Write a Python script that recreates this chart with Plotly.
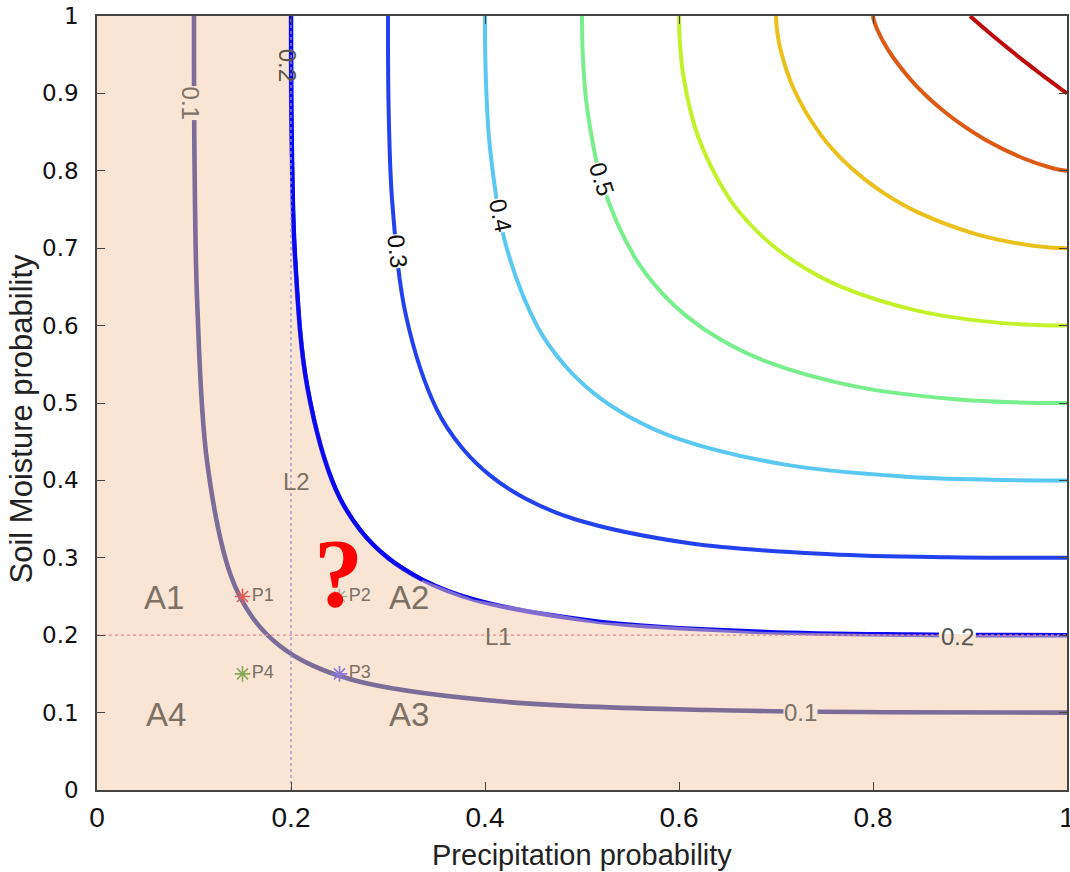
import plotly.graph_objects as go

# ---------------- data ----------------
levels = [0.1, 0.2, 0.3, 0.4, 0.5, 0.6, 0.7, 0.8, 0.9]
level_colors = ["#000C85", "#0A0AF0", "#2242F0", "#5AC8F0", "#78EE8C",
                "#C4F22A", "#EBC01A", "#DC5A14", "#BE0A0A"]

# contour lines (Precipitation prob. x, Soil Moisture prob. y)
c1_x = [0.1, 0.1005, 0.1033, 0.1136, 0.1381, 0.1609, 0.1873, 0.2219, 0.2764, 0.4230, 0.6300, 0.8186, 1.0]
c1_y = [1.0, 0.8186, 0.6300, 0.4230, 0.2764, 0.2219, 0.1873, 0.1609, 0.1381, 0.1136, 0.1033, 0.1005, 0.1]

c2_x = [0.2, 0.2007, 0.2041, 0.2170, 0.2461, 0.2716, 0.2999, 0.3354, 0.3883, 0.5191, 0.6894, 0.8408, 1.0]
c2_y = [1.0, 0.8408, 0.6894, 0.5191, 0.3883, 0.3354, 0.2999, 0.2716, 0.2461, 0.2170, 0.2041, 0.2007, 0.2]

c3_x = [0.3, 0.3007, 0.3046, 0.3188, 0.3501, 0.3769, 0.4058, 0.4411, 0.4920, 0.6112, 0.7558, 0.8773, 1.0]
c3_y = [1.0, 0.8773, 0.7558, 0.6112, 0.4920, 0.4411, 0.4058, 0.3769, 0.3501, 0.3188, 0.3046, 0.3007, 0.3]

c4_x = [0.4, 0.4008, 0.4051, 0.4207, 0.4544, 0.4826, 0.5124, 0.5481, 0.5979, 0.7079, 0.8298, 0.9218, 1.0]
c4_y = [1.0, 0.9218, 0.8298, 0.7079, 0.5979, 0.5481, 0.5124, 0.4826, 0.4544, 0.4207, 0.4051, 0.4008, 0.4]

c5_x = [0.5, 0.5008, 0.5052, 0.5208, 0.5542, 0.5816, 0.6100, 0.6433, 0.6887, 0.7840, 0.8820, 0.9497, 1.0]
c5_y = [1.0, 0.9497, 0.8820, 0.7840, 0.6887, 0.6433, 0.6100, 0.5816, 0.5542, 0.5208, 0.5052, 0.5008, 0.5]

c6_x = [0.6, 0.6008, 0.6048, 0.6194, 0.6501, 0.6748, 0.7000, 0.7290, 0.7675, 0.8453, 0.9201, 0.9682, 1.0]
c6_y = [1.0, 0.9682, 0.9201, 0.8453, 0.7675, 0.7290, 0.7000, 0.6748, 0.6501, 0.6194, 0.6048, 0.6008, 0.6]

c7_x = [0.7, 0.7007, 0.7046, 0.7182, 0.7462, 0.7682, 0.7902, 0.8148, 0.8464, 0.9060, 0.9571, 0.9854, 1.0]
c7_y = [1.0, 0.9854, 0.9571, 0.9060, 0.8464, 0.8148, 0.7902, 0.7682, 0.7462, 0.7182, 0.7046, 0.7007, 0.7]

c8_x = [0.8, 0.8006, 0.8040, 0.8159, 0.8396, 0.8576, 0.8750, 0.8937, 0.9166, 0.9555, 0.9835, 0.9957, 1.0]
c8_y = [1.0, 0.9957, 0.9835, 0.9555, 0.9166, 0.8937, 0.8750, 0.8576, 0.8396, 0.8159, 0.8040, 0.8006, 0.8]

c9_x = [0.9, 0.9005, 0.9029, 0.9112, 0.9270, 0.9384, 0.9487, 0.9591, 0.9709, 0.9878, 0.9968, 0.9995, 1.0]
c9_y = [1.0, 0.9995, 0.9968, 0.9878, 0.9709, 0.9591, 0.9487, 0.9384, 0.9270, 0.9112, 0.9029, 0.9005, 0.9]

contours_x = [c1_x, c2_x, c3_x, c4_x, c5_x, c6_x, c7_x, c8_x, c9_x]
contours_y = [c1_y, c2_y, c3_y, c4_y, c5_y, c6_y, c7_y, c8_y, c9_y]

# threshold lines
L1_x = [0.0, 1.0]
L1_y = [0.2, 0.2]
L2_x = [0.2, 0.2]
L2_y = [0.0, 1.0]

# points
point_names = ["P1", "P2", "P3", "P4"]
point_x = [0.15, 0.25, 0.25, 0.15]
point_y = [0.25, 0.25, 0.15, 0.15]
point_colors = ["#E05A5A", "#9BB5A5", "#8A78D8", "#8AAA5A"]

PEACH = "#FAE5D5"
GRAYBROWN = "#7D7064"
SANS = "Liberation Sans, Arial, Helvetica, sans-serif"

fig = go.Figure()

for lev, col, xs, ys in zip(levels, level_colors, contours_x, contours_y):
    fig.add_trace(go.Scatter(x=xs, y=ys, mode="lines",
                             line=dict(color=col, width=4.6 if lev <= 0.2 else 4.0, shape="spline",
                                       smoothing=1.0),
                             hoverinfo="skip", showlegend=False, name=str(lev)))

# shaded (semi transparent) region C <= 0.2
shade_x = [0.0, 0.0] + c2_x + [1.0, 0.0]
shade_y = [0.0, 1.0] + c2_y + [0.0, 0.0]
fig.add_trace(go.Scatter(x=shade_x, y=shade_y, mode="lines", fill="toself",
                         fillcolor="rgba(245,203,171,0.5)", line=dict(width=0),
                         hoverinfo="skip", showlegend=False))

# upper branch of the 0.2 contour stays fully blue (drawn over the shading)
n_up = 8
fig.add_trace(go.Scatter(x=c2_x[:n_up], y=c2_y[:n_up], mode="lines",
                         line=dict(color=level_colors[1], width=4.0, shape="spline"),
                         hoverinfo="skip", showlegend=False))

fig.add_trace(go.Scatter(x=L1_x, y=L1_y, mode="lines",
                         line=dict(color="#E58C8C", width=1.2, dash="dot"),
                         hoverinfo="skip", showlegend=False))
fig.add_trace(go.Scatter(x=L2_x, y=L2_y, mode="lines",
                         line=dict(color="#9C8ED8", width=1.3, dash="dot"),
                         hoverinfo="skip", showlegend=False))

fig.add_trace(go.Scatter(x=point_x, y=point_y, mode="markers+text",
                         text=point_names, textposition="middle right",
                         textfont=dict(family=SANS, size=18, color=GRAYBROWN),
                         marker=dict(symbol="asterisk-open", size=13, color=point_colors,
                                     line=dict(color=point_colors, width=1.6)),
                         hoverinfo="skip", showlegend=False, cliponaxis=False))

ann = []


def clabel(x, y, t, ang, color, bg=None, size=24):
    d = dict(x=x, y=y, xref="x", yref="y", text=t, showarrow=False, textangle=ang,
             font=dict(family=SANS, size=size, color=color), borderpad=0)
    if bg:
        d["bgcolor"] = bg
    ann.append(d)


# contour labels
clabel(0.096, 0.888, "0.1", 90, GRAYBROWN, PEACH)
clabel(0.196, 0.937, "0.2", 90, "#5E544C")
clabel(0.310, 0.696, "0.3", 84, "#111111", "white")
clabel(0.4155, 0.743, "0.4", 78, "#111111", "white")
clabel(0.5206, 0.789, "0.5", 72, "#111111", "white")
clabel(0.887, 0.198, "0.2", 2, "#555555")
clabel(0.725, 0.0995, "0.1", 0, GRAYBROWN, PEACH)

# region labels
for t, x, y in [("A1", 0.069, 0.249), ("A2", 0.3216, 0.249),
                ("A3", 0.3216, 0.098), ("A4", 0.0711, 0.097)]:
    ann.append(dict(x=x, y=y, xref="x", yref="y", text=t, showarrow=False,
                    font=dict(family=SANS, size=33, color=GRAYBROWN)))
for t, x, y in [("L1", 0.4144, 0.198), ("L2", 0.206, 0.399)]:
    ann.append(dict(x=x, y=y, xref="x", yref="y", text=t, showarrow=False,
                    font=dict(family=SANS, size=24, color=GRAYBROWN)))

# red question mark
ann.append(dict(x=0.2485, y=0.2765, xref="x", yref="y", yshift=3, text="<b>?</b>", showarrow=False,
                font=dict(family="Liberation Serif, Times New Roman, serif", size=98, color="#FF0000")))

# axis titles
ann.append(dict(x=0.5, y=0, xref="paper", yref="paper", yshift=-65, text="Precipitation probability",
                showarrow=False, yanchor="middle",
                font=dict(family=SANS, size=29, color="#222222")))
ann.append(dict(x=0, y=0.48, xref="paper", yref="paper", xshift=-76, text="Soil Moisture probability",
                showarrow=False, xanchor="center", textangle=-90,
                font=dict(family=SANS, size=31, color="#222222")))

# gap in the 0.2 contour behind its right-hand label (white above the line, peach below)
shapes = [
    dict(type="rect", xref="x", yref="y", x0=0.868, x1=0.906, y0=0.2015, y1=0.214,
         fillcolor="white", line=dict(width=0), layer="above"),
    dict(type="rect", xref="x", yref="y", x0=0.868, x1=0.906, y0=0.186, y1=0.2015,
         fillcolor=PEACH, line=dict(width=0), layer="above"),
]

axis_common = dict(range=[0, 1], showgrid=False, zeroline=False, showline=True,
                   linecolor="#444444", linewidth=1.5, mirror="ticks", ticks="inside",
                   ticklen=8, tickwidth=1.2, tickcolor="#444444",
                   ticklabeloverflow="allow", automargin=False)

fig.update_layout(
    width=1070, height=872,
    margin=dict(l=97, r=3, t=16, b=82, autoexpand=False),
    plot_bgcolor="white", paper_bgcolor="white",
    xaxis=dict(**axis_common, dtick=0.2, tick0=0,
               tickfont=dict(family=SANS, size=28, color="#111111"), ticklabelstandoff=2),
    yaxis=dict(**axis_common, dtick=0.1, tick0=0,
               tickfont=dict(family="DejaVu Sans, Verdana, sans-serif", size=23, color="#111111"),
               ticklabelstandoff=12),
    annotations=ann,
    shapes=shapes,
    showlegend=False,
)

fig.write_html("out.html")
